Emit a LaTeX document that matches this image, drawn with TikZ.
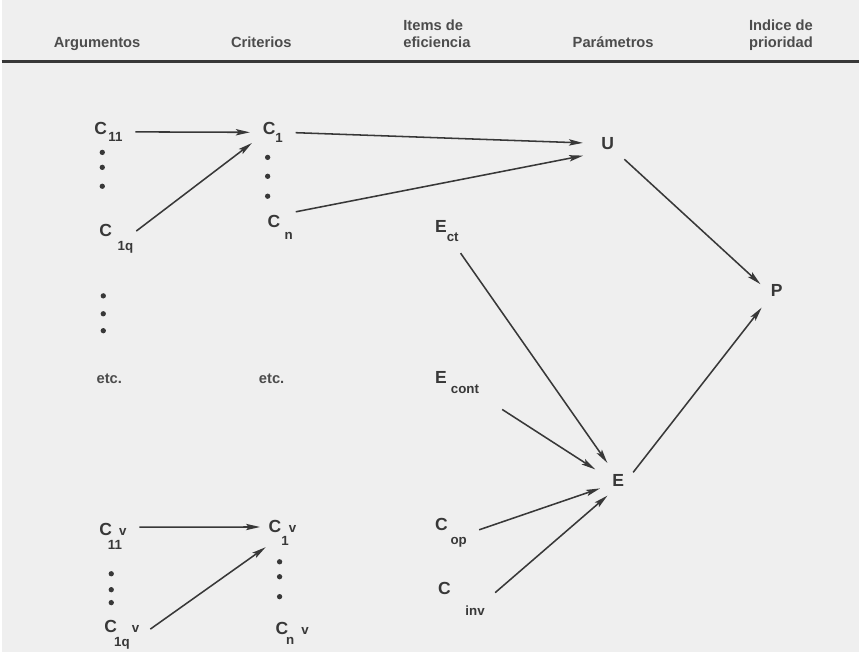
\documentclass[tikz,border=0pt]{standalone}
\usepackage{xcolor}
\usepackage{fontspec}
\setmainfont{Liberation Sans}
\usepackage{tikz}
\usetikzlibrary{arrows.meta,positioning}
\definecolor{paper}{HTML}{EFEFEF}
\definecolor{ink}{HTML}{383838}
\newcommand{\subsz}{\fontsize{9.5}{11}\selectfont}
\newcommand{\lo}[2]{\raisebox{-#1}{\subsz #2}}

\begin{document}
\begin{tikzpicture}[
  x=0.025cm, y=-0.025cm,
  head/.style={anchor=base west, align=left, inner sep=0pt, text=ink!90, font=\bfseries\fontsize{10.5}{12}\selectfont},
  lab/.style={anchor=base west, inner sep=2pt, text=ink, font=\bfseries\fontsize{12.5}{14}\selectfont},
  arr/.style={draw=ink, line width=1.1pt, -{Stealth[length=10pt, width=4.5pt, inset=2pt]}, shorten <=7pt, shorten >=7pt}
]
  \fill[paper] (0,0) rectangle (861,655);

  \node[head] (arg) at (52,48) {Argumentos};
  \node[head] (cri) at (230,48) {Criterios};
  \node[head] (ite) at (403,48) {Items de\\eficiencia};
  \node[head] (par) at (573,48) {Parámetros};
  \node[head] (ind) at (750,48) {Indice de\\prioridad};
  \draw[ink, line width=2.4pt] (0,62) -- (861,62);

  \node[lab] (c11) at (90,135) {C\hspace{1pt}\lo{5pt}{11}};
  \node[lab] (c1q) at (95,237) {C\hspace{4pt}\lo{10pt}{1q}};
  \node[lab] (c1) at (259,135) {C\lo{5.7pt}{1}};
  \node[lab] (cn) at (264,228) {C\hspace{3pt}\lo{8.5pt}{n}};
  \node[head] (etc1) at (95,385) {etc.};
  \node[head] (etc2) at (258,385) {etc.};
  \node[lab] (u) at (599,150) {U};
  \node[lab] (p) at (769,298) {P};
  \node[lab] (ect) at (432,233) {E\lo{7pt}{ct}};
  \node[lab] (econt) at (432,385) {E\hspace{3pt}\lo{7pt}{cont}};
  \node[lab] (e) at (610,488) {E};
  \node[lab] (cop) at (432,533) {C\hspace{2pt}\lo{9.7pt}{op}};
  \node[lab] (cinv) at (435,597) {C\hspace{10.5pt}\lo{15pt}{inv}};
  \node[lab] (cv11) at (95,538) {C\hspace{-3pt}\lo{10pt}{11}\hspace{-2pt}{\subsz v}};
  \node[lab] (cv1q) at (100,635) {C\hspace{-2pt}\lo{10pt}{1q}\hspace{1.5pt}{\subsz v}};
  \node[lab] (cv1) at (265,535) {C\lo{9pt}{1}{\subsz v}};
  \node[lab] (cvn) at (272,637) {C\hspace{-1.5pt}\lo{7pt}{n}\hspace{5pt}{\subsz v}};

  \foreach \x/\y in {101/153, 101/168, 101/187, 267/158, 267/177, 267/197,
                     102/297, 102/315, 102/332, 110/576, 110/592, 110/605,
                     279/564, 279/579, 279/599}
    \fill[ink] (\x,\y) circle (1.9pt);

  \draw[arr] (c11.east) -- (c1.west);
  \draw[arr, shorten <=0pt] (c1q.20) -- (c1.200);
  \draw[arr, shorten >=11pt] (c1.east) -- (u.west);
  \draw[arr, shorten <=0pt, shorten >=11pt] (cn.north east) -- (u.south west);
  \draw[arr] (u.south east) -- (p.west);
  \draw[arr] (ect.-60) -- (e.120);
  \draw[arr, shorten <=17pt, shorten >=12pt] (econt.south east) -- (e.170);
  \draw[arr] (e.east) -- (p.south west);
  \draw[arr] (cop.east) -- (e.210);
  \draw[arr] (cinv.east) -- (e.250);
  \draw[arr, shorten >=4pt] (cv11.30) -- (cv1.160);
  \draw[arr, shorten >=0pt] (cv1q.east) -- (cv1.220);
\end{tikzpicture}
\end{document}
